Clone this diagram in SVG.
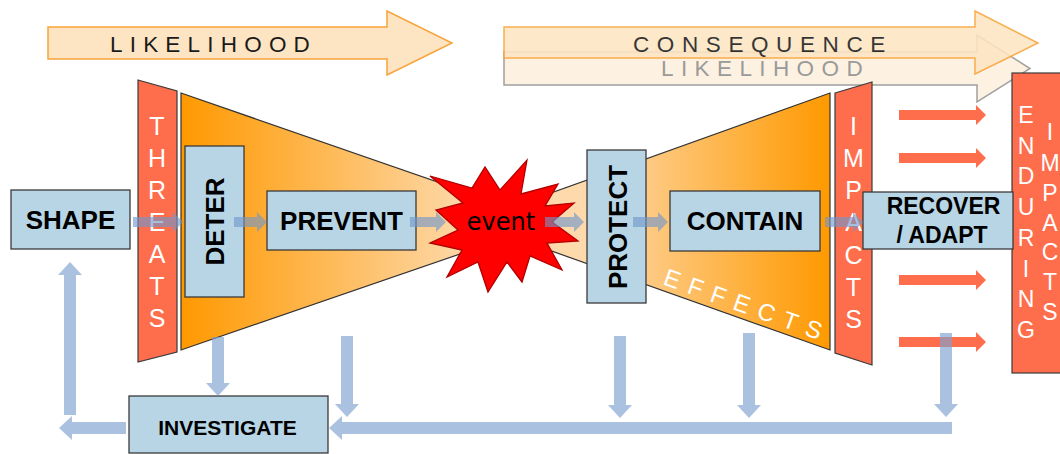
<svg xmlns="http://www.w3.org/2000/svg" width="1060" height="454" viewBox="0 0 1060 454">
<defs>
<linearGradient id="gL" gradientUnits="userSpaceOnUse" x1="181" y1="0" x2="470" y2="0">
<stop offset="0" stop-color="#ff9900"/><stop offset="1" stop-color="#fdd9ab"/>
</linearGradient>
<linearGradient id="gR" gradientUnits="userSpaceOnUse" x1="590" y1="0" x2="830" y2="0">
<stop offset="0" stop-color="#fdd9ab"/><stop offset="1" stop-color="#ff9900"/>
</linearGradient>
<style>
.box{fill:#b7d5e5;stroke:#3a3a3a;stroke-width:1.3}
.bar{fill:#fe6d4c;stroke:#3a3a3a;stroke-width:1.2}
.lbl{font-family:"Liberation Sans",Arial,sans-serif;font-weight:bold;fill:#000;text-anchor:middle}
.vl{font-family:"Liberation Sans",Arial,sans-serif;font-size:25px;fill:#fff;text-anchor:middle}
.big{fill:#fde5c3;stroke:#f7a43a;stroke-width:1.5}
.ttl{font-family:"Liberation Sans",Arial,sans-serif;font-size:22.5px;fill:#1a1a1a}
.flow{fill:#6f96cc;opacity:0.62}
.fb{fill:#7d9fd0;opacity:0.65}
.red{fill:#fe6d4c}
</style>
</defs>

<g id="top-arrows">
<g id="likelihood-ghost">
<path d="M504,52 H977 V35 L1030,68.5 L977,102 V85 H504 Z" fill="#fdf1e2" stroke="#a0a0a0" stroke-width="1.5"/>
<text x="661" y="76" class="ttl" style="fill:#9a9a9a;letter-spacing:7.4px">LIKELIHOOD</text>
</g>
<g id="consequence" opacity="0.88">
<path d="M504,27 H975 V11 L1038,43 L975,74 V58 H504 Z" class="big"/>
<text x="633" y="52" class="ttl" style="letter-spacing:7.6px">CONSEQUENCE</text>
</g>
<g id="likelihood">
<path d="M48,27 H387 V11 L452,43 L387,75 V59 H48 Z" class="big"/>
<text x="110" y="52" class="ttl" style="letter-spacing:7.2px">LIKELIHOOD</text>
</g>
</g>

<g id="funnels">
<polygon id="effects-funnel" points="470,222 830,93 830,350" fill="url(#gR)" stroke="#333" stroke-width="1.2"/>
<polygon id="cause-funnel" points="181,93 553,222 181,350" fill="url(#gL)" stroke="#333" stroke-width="1.2"/>
<text x="662" y="284" transform="rotate(19.6 662 284)" font-family="Liberation Sans, Arial, sans-serif" font-size="24" fill="#fff" style="letter-spacing:9.5px">EFFECTS</text>
</g>

<g id="threats">
<polygon class="bar" points="138,80 177,91 177,352 138,362"/>
<text class="vl"><tspan x="157" y="135">T</tspan><tspan x="157" y="167">H</tspan><tspan x="157" y="199">R</tspan><tspan x="157" y="231">E</tspan><tspan x="157" y="263">A</tspan><tspan x="157" y="295">T</tspan><tspan x="157" y="327">S</tspan></text>
</g>

<g id="impacts">
<polygon class="bar" points="835,93 872,82 872,365 835,353"/>
<text class="vl"><tspan x="853.5" y="135">I</tspan><tspan x="853.5" y="167">M</tspan><tspan x="853.5" y="199">P</tspan><tspan x="853.5" y="231">A</tspan><tspan x="853.5" y="264">C</tspan><tspan x="853.5" y="296">T</tspan><tspan x="853.5" y="328">S</tspan></text>
</g>

<g id="enduring-impacts">
<rect class="bar" x="1012" y="73" width="60" height="300"/>
<text class="vl" style="font-size:23px"><tspan x="1026" y="123">E</tspan><tspan x="1026" y="154">N</tspan><tspan x="1026" y="184">D</tspan><tspan x="1026" y="215">U</tspan><tspan x="1026" y="246">R</tspan><tspan x="1026" y="277">I</tspan><tspan x="1026" y="307">N</tspan><tspan x="1026" y="338">G</tspan></text>
<text class="vl" style="font-size:23px"><tspan x="1050" y="140">I</tspan><tspan x="1050" y="171">M</tspan><tspan x="1050" y="201">P</tspan><tspan x="1050" y="231">A</tspan><tspan x="1050" y="260">C</tspan><tspan x="1050" y="290">T</tspan><tspan x="1050" y="320">S</tspan></text>
</g>

<g id="shape">
<rect class="box" x="11" y="190" width="119" height="59"/>
<text class="lbl" x="70.5" y="228.5" font-size="26">SHAPE</text>
</g>
<g id="deter">
<rect class="box" x="185" y="146" width="59" height="151"/>
<text class="lbl" font-size="26" transform="translate(223.5 221.5) rotate(-90)">DETER</text>
</g>
<g id="prevent">
<rect class="box" x="267" y="191" width="149" height="59"/>
<text class="lbl" x="341.5" y="229.5" font-size="26">PREVENT</text>
</g>
<g id="event">
<polygon points="527,160 521,194 558,184 545,206 574,203 552,222 578,241 547,243 562,270 530,256 522,282 507,262 488,292 478,262 447,277 462,250 430,243 458,230 436,210 463,203 430,176 472,188 485,167 500,190" fill="#ff0000" stroke="#b00000" stroke-width="1.3"/>
<text x="501" y="230" text-anchor="middle" font-family="Comic Sans MS, DejaVu Sans, sans-serif" font-size="24" fill="#000">event</text>
</g>
<g id="protect">
<rect class="box" x="587" y="150" width="59" height="153"/>
<text class="lbl" font-size="26" transform="translate(626.5 227) rotate(-90)">PROTECT</text>
</g>
<g id="contain">
<rect class="box" x="670" y="191" width="150" height="60"/>
<text class="lbl" x="745" y="229.5" font-size="26">CONTAIN</text>
</g>
<g id="recover-adapt">
<rect class="box" x="863" y="192" width="150" height="57"/>
<text class="lbl" x="943.5" y="213.5" font-size="23">RECOVER</text>
<text class="lbl" x="942" y="243" font-size="23">/ ADAPT</text>
</g>
<g id="investigate">
<rect class="box" x="129" y="396" width="199" height="57"/>
<text class="lbl" x="227.5" y="435" font-size="21">INVESTIGATE</text>
</g>

<g id="connectors">
<g id="red-arrows">
<path class="red" d="M899,110 H976 V105 L986,115 L976,125 V120 H899 Z"/>
<path class="red" d="M899,153 H976 V148 L986,158 L976,168 V163 H899 Z"/>
<path class="red" d="M899,275 H976 V270 L986,280 L976,290 V285 H899 Z"/>
<path class="red" d="M899,337 H976 V332 L986,342 L976,352 V347 H899 Z"/>
</g>
<g id="flow">
<path class="flow" d="M133,217 H173 V212 L183,222 L173,232 V227 H133 Z"/>
<path class="flow" d="M234,217 H257 V212 L267,222 L257,232 V227 H234 Z"/>
<path class="flow" d="M410,217 H436 V212 L446,222 L436,232 V227 H410 Z"/>
<path class="flow" d="M545,217 H574 V212 L584,222 L574,232 V227 H545 Z"/>
<path class="flow" d="M633,217 H658 V212 L668,222 L658,232 V227 H633 Z"/>
<path class="flow" d="M825,217 H853 V212 L863,222 L853,232 V227 H825 Z"/>
</g>
<g id="feedback">
<path class="fb" d="M64,415 V275 H58 L70,262 L82,275 H76 V415 Z"/>
<path class="fb" d="M126,422 H72 V416 L59,428 L72,440 V434 H126 Z"/>
<path class="fb" d="M212,337 V383 H206 L218,396 L230,383 H224 V337 Z"/>
<path class="fb" d="M341,336 V404 H335 L347,417 L359,404 H353 V336 Z"/>
<path class="fb" d="M614,336 V405 H608 L620,418 L632,405 H626 V336 Z"/>
<path class="fb" d="M743,333 V405 H737 L749,418 L761,405 H755 V333 Z"/>
<path class="fb" d="M940,333 V404 H934 L946,417 L958,404 H952 V333 Z"/>
<path class="fb" d="M952,422 H342 V416 L329,428 L342,440 V434 H952 Z"/>
</g>
</g>
</svg>
